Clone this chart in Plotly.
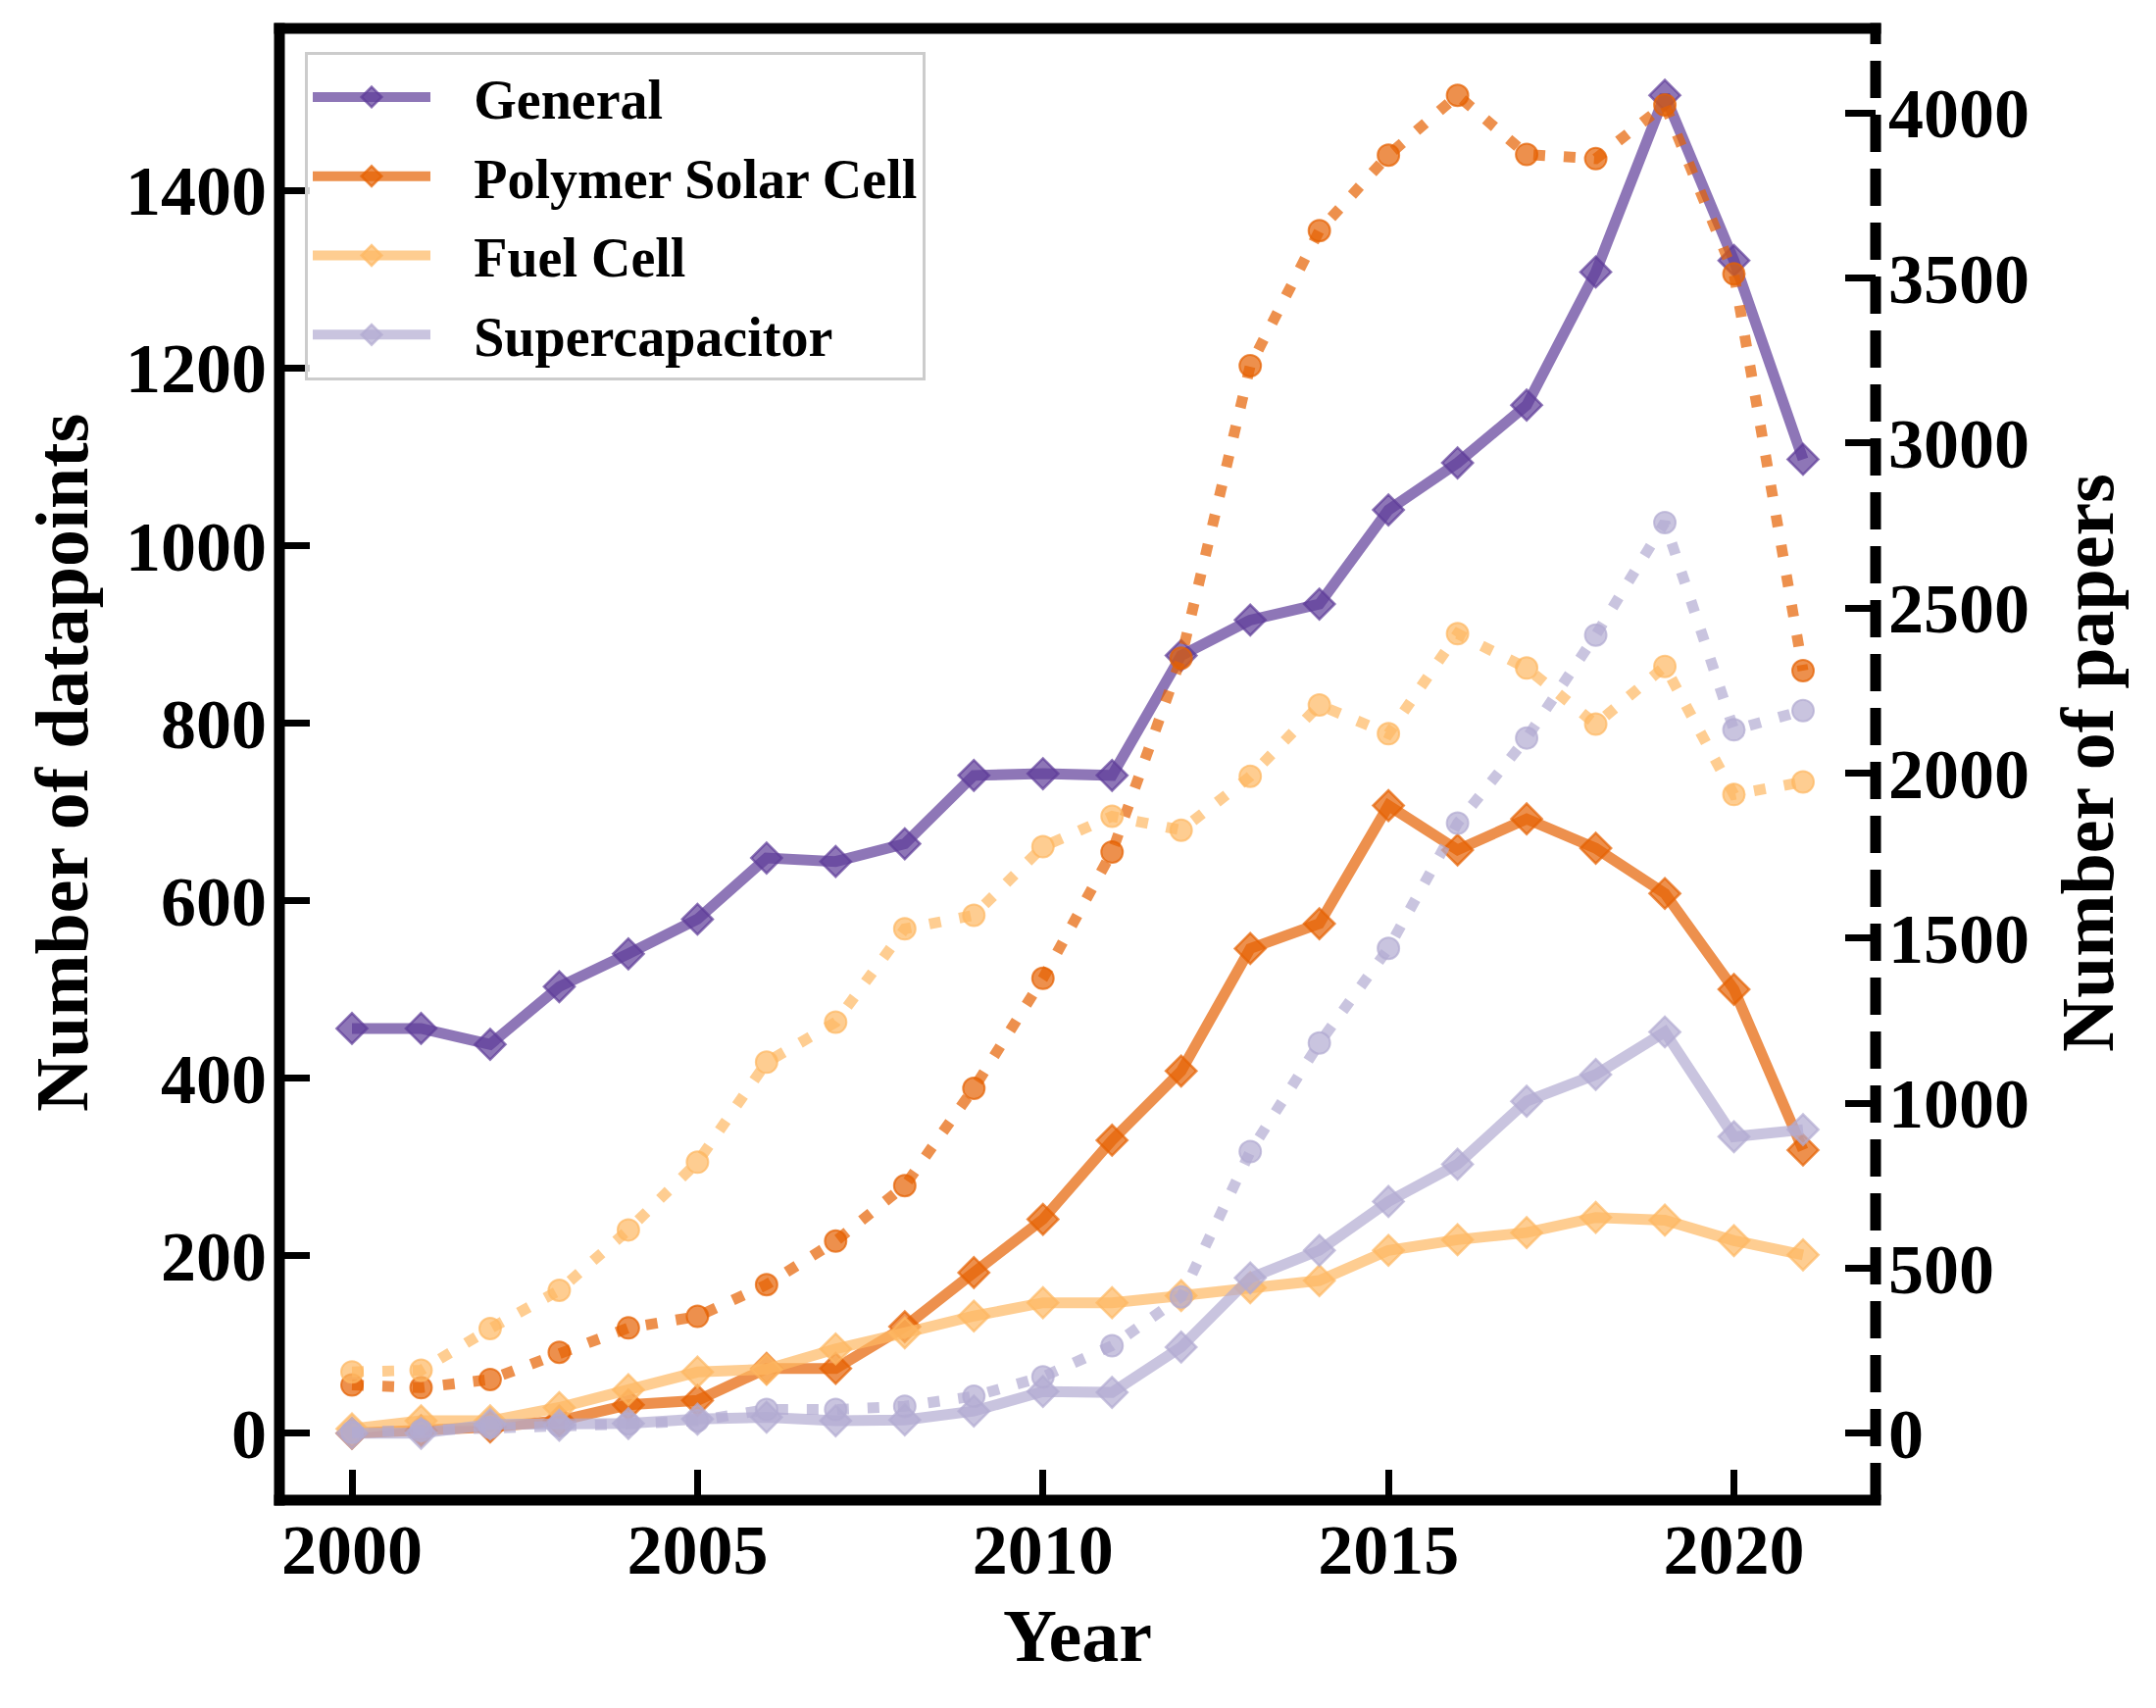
import plotly.graph_objects as go

# ---------------- data ----------------
years = list(range(2000, 2022))

series_names = ["General", "Polymer Solar Cell", "Fuel Cell", "Supercapacitor"]

general_dp = [456, 456, 438, 503, 540, 579, 648, 644, 664, 741, 743, 741,
              876, 916, 934, 1040, 1093, 1158, 1308, 1507, 1321, 1097]
psc_dp = [0, 3, 7, 14, 32, 37, 73, 73, 120, 181, 241, 330,
          408, 546, 574, 707, 657, 692, 659, 608, 500, 319]
fc_dp = [5, 14, 14, 29, 49, 69, 72, 95, 113, 132, 147, 147,
         155, 164, 172, 206, 218, 226, 243, 240, 217, 201]
sc_dp = [0, 0, 10, 9, 11, 16, 18, 14, 15, 25, 47, 46,
         97, 175, 206, 261, 303, 374, 404, 452, 334, 342]

psc_papers = [146, 138, 163, 245, 319, 354, 450, 582, 750, 1045, 1378, 1761,
              2348, 3234, 3643, 3872, 4053, 3874, 3861, 4024, 3512, 2310]
fc_papers = [186, 191, 317, 433, 616, 821, 1124, 1245, 1528, 1569, 1777, 1869,
             1827, 1990, 2206, 2119, 2422, 2318, 2148, 2323, 1935, 1973]
sc_papers = [3, 8, 18, 23, 28, 38, 72, 72, 82, 112, 171, 265,
             413, 853, 1182, 1469, 1848, 2106, 2418, 2759, 2131, 2189]

x_ticks = [2000, 2005, 2010, 2015, 2020]
y_left_ticks = [0, 200, 400, 600, 800, 1000, 1200, 1400]
y_right_ticks = [0, 500, 1000, 1500, 2000, 2500, 3000, 3500, 4000]

# ---------------- style ----------------
colors = {"General": (94, 60, 153), "Polymer Solar Cell": (230, 97, 1),
          "Fuel Cell": (253, 184, 99), "Supercapacitor": (178, 171, 210)}
ALPHA = 0.7
FONT = "Liberation Serif"
LEGEND_TEXT_GAP = "\u2002\u2009"  # visual gap between legend symbol and label


def rgba(c, a=ALPHA):
    return f"rgba({c[0]},{c[1]},{c[2]},{a})"


W, H = 2199, 1742
L, R, T, B = 285, 1913, 29, 1530
LW = 11

fig = go.Figure()

dp_data = [general_dp, psc_dp, fc_dp, sc_dp]
for name, vals in zip(series_names, dp_data):
    c = colors[name]
    fig.add_trace(go.Scatter(
        x=years, y=vals, name=LEGEND_TEXT_GAP + name, mode="lines+markers", yaxis="y",
        legendgroup=name,
        line=dict(color=rgba(c), width=LW),
        marker=dict(symbol="diamond", size=24, color=rgba(c),
                    line=dict(color=rgba(c), width=2.5)),
    ))

paper_data = [("Polymer Solar Cell", psc_papers), ("Fuel Cell", fc_papers),
              ("Supercapacitor", sc_papers)]
for name, vals in paper_data:
    c = colors[name]
    fig.add_trace(go.Scatter(
        x=years, y=vals, name=name + " papers", mode="lines+markers", yaxis="y2",
        showlegend=False,
        line=dict(color=rgba(c), width=LW, dash="12px,19px"),
        marker=dict(symbol="circle", size=22, color=rgba(c),
                    line=dict(color=rgba(c), width=2)),
    ))


def pad_range(lo, hi, frac=0.05):
    span = hi - lo
    return [lo - frac * span, hi + frac * span]


x_range = pad_range(min(years), max(years))
y1_range = pad_range(min(min(s) for s in dp_data), max(max(s) for s in dp_data))
all_papers = psc_papers + fc_papers + sc_papers
y2_range = pad_range(0, max(all_papers))

tickfont = dict(family=FONT, size=72, color="black", weight="bold")
common_axis = dict(showgrid=False, zeroline=False, showline=False,
                   ticks="inside", ticklen=31, tickwidth=7, tickcolor="black",
                   tickfont=tickfont)

fig.update_layout(
    width=W, height=H,
    margin=dict(l=L, r=W - R, t=T, b=H - B, pad=0, autoexpand=False),
    paper_bgcolor="white", plot_bgcolor="white",
    font=dict(family=FONT, size=72, color="black", weight="bold"),
    xaxis=dict(range=x_range, tickmode="array", tickvals=x_ticks,
               ticktext=[str(v) for v in x_ticks], ticklabelstandoff=2,
               **common_axis),
    yaxis=dict(range=y1_range, tickmode="array", tickvals=y_left_ticks,
               ticktext=[str(v) for v in y_left_ticks], ticklabelstandoff=12,
               **common_axis),
    yaxis2=dict(range=y2_range, overlaying="y", side="right", tickmode="array",
                tickvals=y_right_ticks, ticktext=[str(v) for v in y_right_ticks],
                ticklabelstandoff=12, **common_axis),
    legend=dict(x=(311 - L) / (R - L), y=(B - 53) / (B - T),
                xanchor="left", yanchor="top",
                bgcolor="rgba(255,255,255,0.8)", bordercolor="#cccccc",
                borderwidth=3, font=dict(family=FONT, size=56, color="black", weight="bold"),
                itemwidth=120, tracegroupgap=5),
    showlegend=True,
)

# spines (drawn as shapes so the right one can be dashed)
ex = (LW / 2) / (R - L)
ey = (LW / 2) / (B - T)
spine = dict(type="line", xref="paper", yref="paper", layer="above")
fig.add_shape(**spine, x0=-ex, x1=1 + ex, y0=0, y1=0, line=dict(color="black", width=LW))
fig.add_shape(**spine, x0=-ex, x1=1 + ex, y0=1, y1=1, line=dict(color="black", width=LW))
fig.add_shape(**spine, x0=0, x1=0, y0=-ey, y1=1 + ey, line=dict(color="black", width=LW))
fig.add_shape(**spine, x0=1, x1=1, y0=0, y1=1 + ey,
              line=dict(color="black", width=LW, dash="38px,17px"))

# axis titles
title_font = dict(family=FONT, size=76, color="black", weight="bold")
fig.add_annotation(text="Year", xref="paper", yref="paper",
                   x=0.5, y=(B - 1668) / (B - T), xanchor="center", yanchor="middle",
                   showarrow=False, font=title_font)
fig.add_annotation(text="Number of datapoints", xref="paper", yref="paper",
                   x=(63 - L) / (R - L), y=(B - 778) / (B - T), textangle=-90,
                   xanchor="center", yanchor="middle", showarrow=False, font=title_font)
fig.add_annotation(text="Number of papers", xref="paper", yref="paper",
                   x=(2129 - L) / (R - L), y=(B - 778) / (B - T), textangle=-90,
                   xanchor="center", yanchor="middle", showarrow=False, font=title_font)

fig.write_html("out.html", config={"displayModeBar": False},
               post_script="document.body.style.margin='0';")
